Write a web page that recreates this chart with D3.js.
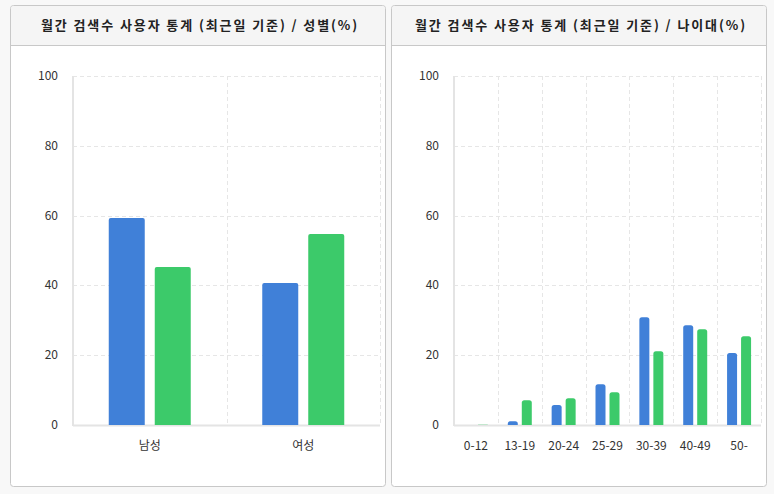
<!DOCTYPE html>
<html>
<head>
<meta charset="utf-8">
<script src="https://cdn.jsdelivr.net/npm/d3@7"></script>
<style>
  body { margin: 0; background: #f8f8f8; }
  svg { display: block; }
</style>
</head>
<body>
<svg id="chart" width="774" height="494"></svg>
<script>
// data
const genderCats = ["남성", "여성"];
const genderBlue = [59.3, 40.7];
const genderGreen = [45.3, 54.7];

const ageCats = ["0-12", "13-19", "20-24", "25-29", "30-39", "40-49", "50-"];
const ageBlue = [0, 1.1, 5.7, 11.7, 30.9, 28.6, 20.6];
const ageGreen = [0.1, 7.1, 7.7, 9.4, 21.1, 27.4, 25.4];

const yTicks = [0, 20, 40, 60, 80, 100];

const titles = [
  "월간 검색수 사용자 통계 (최근일 기준) / 성별(%)",
  "월간 검색수 사용자 통계 (최근일 기준) / 나이대(%)",
];

const svg = d3.select("#chart");
const font = "'Noto Sans CJK KR', 'Noto Sans', sans-serif";
const blue = "#4080d8";
const green = "#3cca6a";

// rect with rounded top corners only
function topRounded(x, y, w, h, r) {
  if (h <= 0) return "";
  r = Math.min(r, h, w / 2);
  return `M${x},${y + h}V${y + r}Q${x},${y} ${x + r},${y}H${x + w - r}Q${x + w},${y} ${x + w},${y + r}V${y + h}Z`;
}

function drawPanel(px, title, cats, s1, s2, opt) {
  const g = svg.append("g");

  // panel box
  g.append("rect")
    .attr("x", px + 0.5).attr("y", 5.5)
    .attr("width", 375).attr("height", 481)
    .attr("rx", 3)
    .attr("fill", "#fff")
    .attr("stroke", "#c8c8c8");

  // header
  g.append("path")
    .attr("d", `M${px + 1},45V9Q${px + 1},6 ${px + 4},6H${px + 372}Q${px + 375},6 ${px + 375},9V45Z`)
    .attr("fill", "#f5f5f5");
  g.append("line")
    .attr("x1", px + 1).attr("x2", px + 375)
    .attr("y1", 45.5).attr("y2", 45.5)
    .attr("stroke", "#c8c8c8");
  g.append("text")
    .attr("x", px + 190).attr("y", 30)
    .attr("text-anchor", "middle")
    .attr("font-family", font)
    .attr("font-size", 13)
    .attr("font-weight", "bold")
    .attr("letter-spacing", 1.9)
    .attr("fill", "#222")
    .text(title);

  const x = d3.scaleBand().domain(cats).range([opt.left, opt.right]);
  const y = d3.scaleLinear().domain([0, 100]).range([425, 76]);

  // horizontal grid
  g.selectAll(".hg").data(yTicks.filter(d => d > 0)).join("line")
    .attr("x1", opt.left).attr("x2", opt.right)
    .attr("y1", d => Math.round(y(d)) + 0.5).attr("y2", d => Math.round(y(d)) + 0.5)
    .attr("stroke", "#e6e6e6")
    .attr("stroke-dasharray", "4,3");

  // vertical grid at band edges
  const edges = cats.map(c => x(c) + x.bandwidth());
  g.selectAll(".vg").data(edges).join("line")
    .attr("x1", d => Math.round(d) + 0.5).attr("x2", d => Math.round(d) + 0.5)
    .attr("y1", y(100)).attr("y2", y(0))
    .attr("stroke", "#e6e6e6")
    .attr("stroke-dasharray", "4,3");

  // axes lines
  g.append("line")
    .attr("x1", opt.left).attr("x2", opt.left)
    .attr("y1", y(100)).attr("y2", y(0) + 1)
    .attr("stroke", "#e4e4e4").attr("stroke-width", 2);
  g.append("line")
    .attr("x1", opt.left).attr("x2", opt.right)
    .attr("y1", y(0) + 0.5).attr("y2", y(0) + 0.5)
    .attr("stroke", "#e4e4e4").attr("stroke-width", 2);

  // y tick labels
  g.selectAll(".yt").data(yTicks).join("text")
    .attr("x", opt.left - 15)
    .attr("y", d => y(d) + 4)
    .attr("text-anchor", "end")
    .attr("font-family", font)
    .attr("font-size", 12)
    .attr("fill", "#333")
    .text(d => d);

  // x labels
  g.selectAll(".xt").data(cats).join("text")
    .attr("x", d => x(d) + x.bandwidth() / 2)
    .attr("y", 450)
    .attr("text-anchor", "middle")
    .attr("font-family", font)
    .attr("font-size", 12)
    .attr("fill", "#333")
    .text(d => d);

  // bars
  const w = opt.barW, gap = opt.gap;
  cats.forEach((c, i) => {
    const cx = x(c) + x.bandwidth() / 2;
    g.append("path")
      .attr("d", topRounded(cx - gap / 2 - w, y(s1[i]), w, y(0) - y(s1[i]), opt.r))
      .attr("fill", blue);
    g.append("path")
      .attr("d", topRounded(cx + gap / 2, y(s2[i]), w, y(0) - y(s2[i]), opt.r))
      .attr("fill", green);
  });
}

drawPanel(10, titles[0], genderCats, genderBlue, genderGreen,
  { left: 73, right: 380, barW: 36, gap: 10, r: 2 });
drawPanel(391, titles[1], ageCats, ageBlue, ageGreen,
  { left: 454, right: 761, barW: 10, gap: 4, r: 2.5 });
</script>
</body>
</html>
